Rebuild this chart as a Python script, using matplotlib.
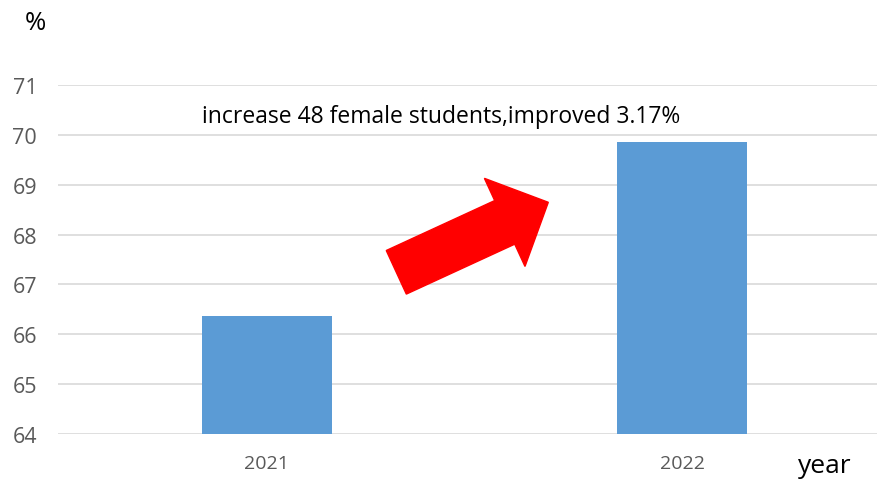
import matplotlib.pyplot as plt
import numpy as np
from matplotlib.patches import Polygon

years = ['2021', '2022']
ratio = [66.36, 69.85]
note = 'increase 48 female students,improved 3.17%'

plt.rcParams['font.family'] = ['Open Sans', 'DejaVu Sans']

W, H = 877, 481
fig = plt.figure(figsize=(W / 100, H / 100), dpi=100)
ax = fig.add_axes([58 / W, 45.7 / H, (W - 58) / W, 349.6 / H])

x = np.arange(len(years))
ax.bar(x, ratio, width=0.313, color='#5B9BD5', zorder=3)

ax.set_xlim(-0.502, 1.469)
ax.set_ylim(64, 71)
ax.set_yticks(range(64, 72))
ax.set_xticks(x)
ax.set_xticklabels(years)
ax.grid(axis='y', color='#D9D9D9', linewidth=1.2, zorder=0)
for s in ax.spines.values():
    s.set_visible(False)
ax.tick_params(axis='both', length=0, colors='#595959')
ax.tick_params(axis='y', pad=15, labelsize=15.5)
ax.tick_params(axis='x', pad=14, labelsize=14)

# axis captions
fig.text(35 / W, 1 - 24 / H, '%', fontsize=18.5, ha='center', va='center')
fig.text(825 / W, 1 - 467 / H, 'year', fontsize=19, ha='center', va='center')

# note above the bars
fig.text(441 / W, 1 - 117 / H, note, fontsize=16.5, ha='center', va='center')

# red arrow pointing up towards the 2022 bar (pixel geometry)
tail = np.array([396.3, 273.3])
tip = np.array([548.3, 203.3])
shaft_w, head_w, head_l = 48, 97, 48
d = (tip - tail) / np.linalg.norm(tip - tail)
n = np.array([-d[1], d[0]])
base = tip - d * head_l
pts = [tail + n * shaft_w / 2, base + n * shaft_w / 2, base + n * head_w / 2, tip,
       base - n * head_w / 2, base - n * shaft_w / 2, tail - n * shaft_w / 2]
pts = [(p[0] / W, 1 - p[1] / H) for p in pts]
fig.patches.append(Polygon(pts, closed=True, color='#FF0000', transform=fig.transFigure))

fig.savefig('out.png', dpi=100)
